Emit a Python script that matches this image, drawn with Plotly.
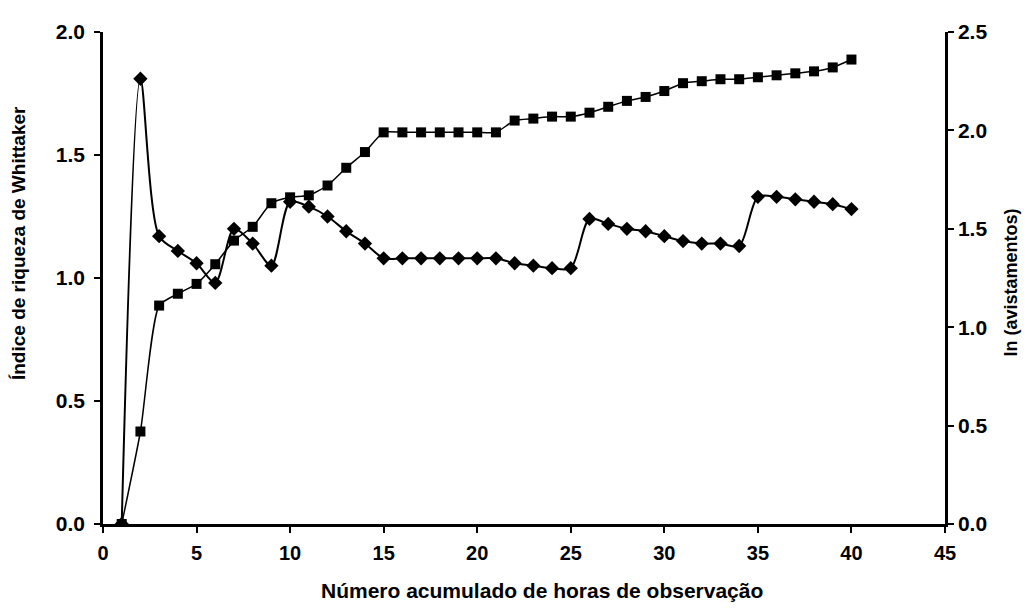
import plotly.graph_objects as go

hours = list(range(1, 41))

whittaker = [0.0, 1.81, 1.17, 1.11, 1.06, 0.98, 1.20, 1.14, 1.05, 1.31,
             1.29, 1.25, 1.19, 1.14, 1.08, 1.08, 1.08, 1.08, 1.08, 1.08,
             1.08, 1.06, 1.05, 1.04, 1.04, 1.24, 1.22, 1.20, 1.19, 1.17,
             1.15, 1.14, 1.14, 1.13, 1.33, 1.33, 1.32, 1.31, 1.30, 1.28]

ln_avist = [0.0, 0.47, 1.11, 1.17, 1.22, 1.32, 1.44, 1.51, 1.63, 1.66,
            1.67, 1.72, 1.81, 1.89, 1.99, 1.99, 1.99, 1.99, 1.99, 1.99,
            1.99, 2.05, 2.06, 2.07, 2.07, 2.09, 2.12, 2.15, 2.17, 2.20,
            2.24, 2.25, 2.26, 2.26, 2.27, 2.28, 2.29, 2.30, 2.32, 2.36]

x_ticks = [0, 5, 10, 15, 20, 25, 30, 35, 40, 45]
left_ticks = [0.0, 0.5, 1.0, 1.5, 2.0]
right_ticks = [0.0, 0.5, 1.0, 1.5, 2.0, 2.5]

x_title = "Número acumulado de horas de observação"
left_title = "Índice de riqueza de Whittaker"
right_title = "ln (avistamentos)"

FONT = "Liberation Sans, Arial, sans-serif"

fig = go.Figure()
fig.add_trace(go.Scatter(
    x=hours, y=whittaker, mode="lines+markers", name="Whittaker",
    line=dict(color="black", width=2, shape="spline", smoothing=0.8),
    marker=dict(symbol="diamond", size=11, color="black"),
    yaxis="y", showlegend=False))
fig.add_trace(go.Scatter(
    x=hours, y=ln_avist, mode="lines+markers", name=right_title,
    line=dict(color="black", width=1.5, shape="spline", smoothing=0.6),
    marker=dict(symbol="square", size=10, color="black"),
    yaxis="y2", showlegend=False))

yfont = dict(family=FONT, size=21, color="black")
xfont = dict(family=FONT, size=20, color="black")

# the page body has an 8px margin; size the figure so the window needs no scrollbar
fig.update_layout(
    width=1017, height=597,
    margin=dict(l=95, r=80, t=24, b=81),
    paper_bgcolor="white", plot_bgcolor="white",
    font=dict(family=FONT, color="black"),
    xaxis=dict(range=[0, 45], tickvals=x_ticks,
               ticktext=[f"<b>{v}</b>" for v in x_ticks],
               showgrid=False, zeroline=False, showline=True,
               linecolor="black", linewidth=2.5, ticks="outside",
               ticklen=6, tickwidth=2, tickcolor="black", tickfont=xfont,
               ticklabelstandoff=3, automargin=False),
    yaxis=dict(range=[0, 2.0], tickvals=left_ticks,
               ticktext=[f"<b>{v:.1f}</b>" for v in left_ticks],
               showgrid=False, zeroline=False, showline=True,
               linecolor="black", linewidth=2.5, ticks="outside",
               ticklen=6, tickwidth=2, tickcolor="black", tickfont=yfont,
               ticklabelstandoff=5, automargin=False),
    yaxis2=dict(range=[0, 2.5], tickvals=right_ticks,
                ticktext=[f"<b>{v:.1f}</b>" for v in right_ticks],
                overlaying="y", side="right", anchor="x",
                showgrid=False, zeroline=False, showline=True,
                linecolor="black", linewidth=2.5, ticks="outside",
                ticklen=6, tickwidth=2, tickcolor="black", tickfont=yfont,
                automargin=False),
    annotations=[
        dict(text=f"<b>{x_title}</b>", xref="paper", yref="paper",
             x=0.521, y=-0.136, xanchor="center", yanchor="middle",
             showarrow=False, font=dict(family=FONT, size=21, color="black")),
        dict(text=f"<b>{left_title}</b>", xref="paper", yref="paper",
             x=-0.101, y=0.571, xanchor="center", yanchor="middle",
             textangle=-90, showarrow=False,
             font=dict(family=FONT, size=19, color="black")),
        dict(text=f"<b>{right_title}</b>", xref="paper", yref="paper",
             x=1.078, y=0.49, xanchor="center", yanchor="middle",
             textangle=-90, showarrow=False,
             font=dict(family=FONT, size=18, color="black")),
    ],
)

fig.write_html("out.html")
